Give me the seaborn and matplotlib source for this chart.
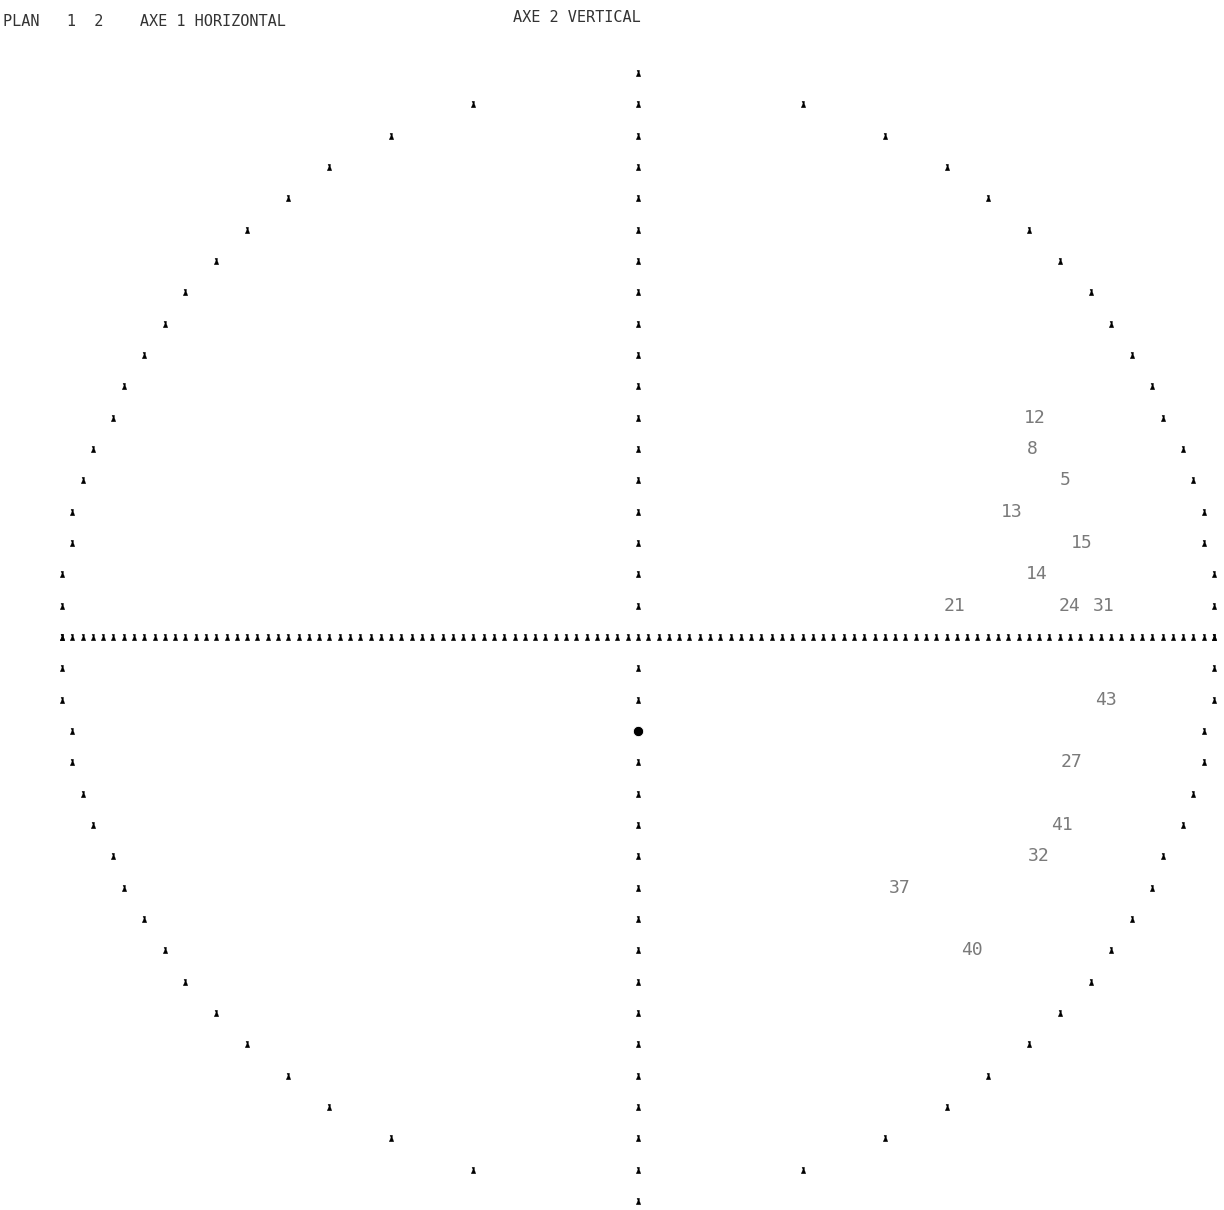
import numpy as np
import pandas as pd
import matplotlib
matplotlib.use("Agg")
import matplotlib.pyplot as plt
import seaborn as sns

# ---- data (correlation-circle coordinates, unit circle) ----
label_names = ["12", "8", "5", "13", "15", "14", "21", "24", "31",
               "43", "27", "41", "32", "37", "40"]
label_x = [0.689, 0.684, 0.741, 0.648, 0.770, 0.693, 0.550, 0.750, 0.809,
           0.813, 0.752, 0.736, 0.695, 0.455, 0.579]
label_y = [0.394, 0.338, 0.282, 0.225, 0.169, 0.113, 0.056, 0.056, 0.056,
           -0.113, -0.225, -0.338, -0.394, -0.451, -0.563]

title_left = "PLAN   1  2    AXE 1 HORIZONTAL"
title_right = "AXE 2 VERTICAL"

# printer grid: 56 columns per unit horizontally, 17.75 rows per unit vertically
n_cols = 56
n_rows = 17.75
row_idx = np.arange(-17, 18)

# circle sampled on printer rows
circ_y = row_idx / n_rows
circ_x = np.round(n_cols * np.sqrt(1 - circ_y ** 2)) / n_cols
circle = pd.DataFrame({"x": np.concatenate([circ_x, -circ_x]),
                       "y": np.concatenate([circ_y, circ_y])})

# axes drawn as printed characters
haxis = pd.DataFrame({"x": np.arange(-56, 57) / n_cols, "y": 0.0})
vrows = np.array([k for k in range(-18, 19) if k != 0])
vaxis = pd.DataFrame({"x": 0.0, "y": vrows / n_rows})

# ---- drawing ----
sns.set_style("white")
plt.rcParams["font.family"] = ["DejaVu Sans Mono", "DejaVu Sans"]

fig = plt.figure(figsize=(12.24, 12.10), dpi=100)
ax = fig.add_axes([0, 0, 1, 1])

glyph = [(-0.25, 0.5), (0.15, 0.5), (0.15, 0.1), (0.35, -0.5), (-0.35, -0.5), (-0.1, 0.1)]
kw = dict(marker=glyph, s=22, color="black", edgecolor="black", linewidth=0.2, ax=ax, legend=False)
sns.scatterplot(data=circle, x="x", y="y", **kw)
sns.scatterplot(data=haxis, x="x", y="y", **kw)
sns.scatterplot(data=vaxis, x="x", y="y", **kw)
# overprinted blob on vertical axis
sns.scatterplot(x=[0.0], y=[-3 / n_rows], marker="o", s=55, color="black", ax=ax, legend=False)

for name, x, y in zip(label_names, label_x, label_y):
    ax.text(x, y, name, ha="center", va="center", fontsize=13,
            color="#7a7a7a", family="DejaVu Sans Mono")

ax.set_xlim(-638 / 576, (1224 - 638) / 576)
ax.set_ylim(-(1210 - 637) / 556, 637 / 556)
ax.set_axis_off()

fig.text(3 / 1224, 1 - 22 / 1210, title_left, ha="left", va="center",
         fontsize=11, color="#333333", family="DejaVu Sans Mono")
fig.text(513 / 1224, 1 - 18 / 1210, title_right, ha="left", va="center",
         fontsize=11, color="#333333", family="DejaVu Sans Mono")

fig.savefig("out.png", dpi=100, facecolor="white")
